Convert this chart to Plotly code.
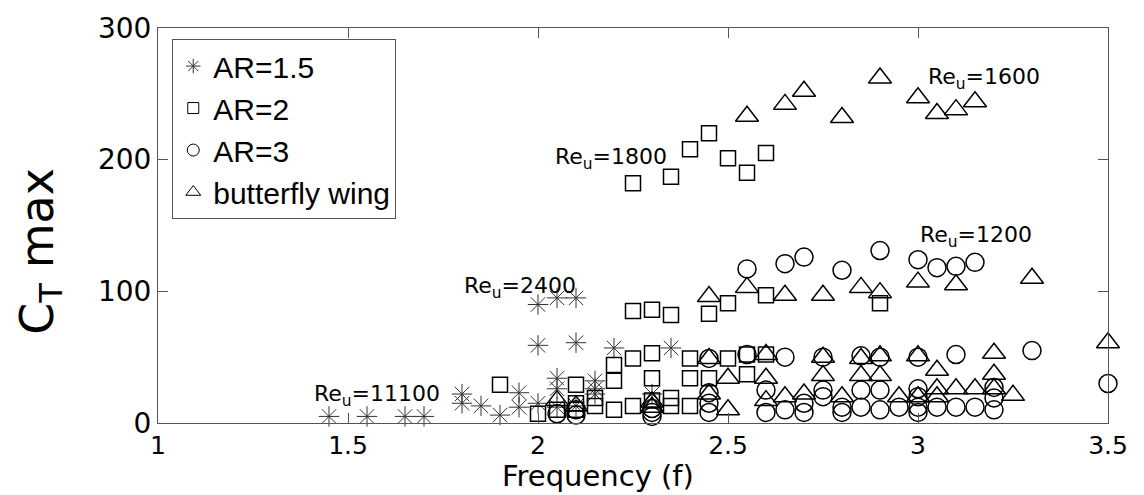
import plotly.graph_objects as go

# Peak thrust coefficient vs. flapping frequency for several wing shapes
ar15_f = [1.45, 1.55, 1.65, 1.70, 1.80, 1.80, 1.85, 1.90, 1.95, 1.95, 2.00, 2.00, 2.00,
          2.05, 2.05, 2.05, 2.05, 2.10, 2.10, 2.10, 2.15, 2.15, 2.15, 2.20, 2.30, 2.35]
ar15_ct = [5, 5, 5, 5, 22, 15, 13, 6, 23, 12, 15, 59, 90,
           34, 26, 12, 95, 13, 61, 95, 32, 26, 22, 57, 22, 57]

ar2_f = [2.25, 2.35, 2.40, 2.45, 2.50, 2.55, 2.60,
         2.25, 2.30, 2.35, 2.45, 2.50, 2.60, 2.90,
         1.90, 2.00, 2.10, 2.10, 2.15, 2.15, 2.20, 2.20, 2.20, 2.25, 2.25, 2.30, 2.30,
         2.30, 2.35, 2.35, 2.40, 2.40, 2.40, 2.45, 2.50, 2.55, 2.55, 2.60, 2.05, 2.10]
ar2_ct = [182, 187, 208, 220, 201, 190, 205,
          85, 86, 82, 83, 91, 97, 91,
          29, 7, 29, 15, 19, 13, 44, 32, 10, 49, 13, 53, 34,
          17, 19, 13, 49, 34, 13, 34, 49, 52, 37, 52, 10, 10]

ar3_f = [2.05, 2.10, 2.10, 2.30, 2.30, 2.30, 2.45, 2.45, 2.45, 2.45, 2.55, 2.55, 2.60,
         2.60, 2.65, 2.65, 2.65, 2.70, 2.70, 2.70, 2.75, 2.75, 2.75, 2.80, 2.80, 2.80,
         2.85, 2.85, 2.85, 2.90, 2.90, 2.90, 2.90, 2.95, 3.00, 3.00, 3.00, 3.00, 3.00,
         3.00, 3.05, 3.05, 3.10, 3.10, 3.10, 3.15, 3.15, 3.20, 3.20, 3.20, 3.30, 3.50]
ar3_ct = [7, 6, 10, 5, 8, 11, 49, 23, 15, 8, 117, 52, 25,
          8, 121, 50, 10, 126, 15, 8, 50, 25, 20, 116, 8, 12,
          51, 25, 12, 131, 50, 25, 10, 12, 124, 50, 26, 20, 12,
          8, 118, 12, 119, 52, 12, 122, 12, 27, 19, 10, 55, 30]

bf_f = [2.05, 2.10, 2.30, 2.30, 2.45, 2.45, 2.45, 2.50, 2.50, 2.55, 2.55, 2.60, 2.60,
        2.60, 2.65, 2.65, 2.65, 2.70, 2.70, 2.75, 2.75, 2.75, 2.80, 2.80, 2.85, 2.85,
        2.85, 2.90, 2.90, 2.90, 2.90, 2.95, 3.00, 3.00, 3.00, 3.00, 3.05, 3.05, 3.05,
        3.05, 3.10, 3.10, 3.10, 3.15, 3.15, 3.20, 3.20, 3.20, 3.25, 3.30, 3.50]
bf_ct = [17, 13, 16, 12, 96, 49, 22, 34, 10, 233, 103, 52, 34,
         17, 242, 97, 20, 252, 22, 97, 50, 36, 232, 20, 103, 49,
         36, 262, 99, 51, 36, 20, 247, 107, 51, 20, 235, 40, 26,
         20, 238, 105, 26, 244, 26, 53, 37, 26, 21, 110, 61]

series_names = ["AR=1.5", "AR=2", "AR=3", "butterfly wing"]

# Reynolds-number labels: (text, frequency, CT)
re_labels = [
    ("Re<sub>u</sub>=1800", 2.04, 201),
    ("Re<sub>u</sub>=1600", 3.02, 262),
    ("Re<sub>u</sub>=1200", 3.00, 142),
    ("Re<sub>u</sub>=2400", 1.80, 103),
    ("Re<sub>u</sub>=11100", 1.405, 21),
]

x_ticks = [1, 1.5, 2, 2.5, 3, 3.5]
x_tick_text = ["1", "1.5", "2", "2.5", "3", "3.5"]
y_ticks = [0, 100, 200, 300]

FONT = "DejaVu Sans, Arial, sans-serif"
LEG_FONT = "Liberation Sans, Arial, sans-serif"
INK = "black"

styles = [
    dict(symbol="asterisk-open", size=17, line=dict(color="#333", width=1), color="#333"),
    dict(symbol="square-open", size=15, line=dict(color=INK, width=1.5), color=INK),
    dict(symbol="circle-open", size=18, line=dict(color=INK, width=1.5), color=INK),
    dict(symbol="triangle-up-open", size=20, line=dict(color=INK, width=1.5), color=INK),
]
legend_sizes = [12, 11, 12, 13]
data = [(ar15_f, ar15_ct), (ar2_f, ar2_ct), (ar3_f, ar3_ct), (bf_f, bf_ct)]

fig = go.Figure()
for (xs, ys), st, name in zip(data, styles, series_names):
    fig.add_trace(go.Scatter(x=xs, y=ys, mode="markers", marker=st, name=name,
                             showlegend=False, cliponaxis=False))
# legend entries use smaller symbols
for st, name, ls in zip(styles, series_names, legend_sizes):
    m = dict(st)
    m["size"] = ls
    m["line"] = dict(color=INK, width=1)
    fig.add_trace(go.Scatter(x=[None], y=[None], mode="markers", marker=m, name=name))

for text, fx, fy in re_labels:
    fig.add_annotation(x=fx, y=fy, text=text, showarrow=False, xanchor="left",
                       yanchor="middle", font=dict(family=FONT, size=22, color=INK))

# axis titles
fig.add_annotation(xref="paper", yref="paper", x=0.463, y=-0.182, text="Frequency (f)",
                   showarrow=False, xanchor="center", yanchor="bottom",
                   font=dict(family=FONT, size=29, color=INK))
fig.add_annotation(xref="paper", yref="paper", x=-0.124, y=0.434, text="C<sub>T</sub> max",
                   showarrow=False, xanchor="center", yanchor="middle", textangle=-90,
                   font=dict(family=FONT, size=46, color=INK))

axis_common = dict(showline=True, linecolor="#555", linewidth=1, mirror="ticks",
                   ticks="inside", ticklen=10, tickcolor="#555", showgrid=False,
                   zeroline=False)

fig.update_layout(
    width=1144, height=495,
    margin=dict(l=158, r=36, t=24, b=72),
    paper_bgcolor="white", plot_bgcolor="white",
    xaxis=dict(range=[1, 3.5], tickvals=x_ticks, ticktext=x_tick_text,
               tickfont=dict(family=FONT, size=25, color=INK), **axis_common),
    yaxis=dict(range=[0, 300], tickvals=y_ticks,
               tickfont=dict(family=FONT, size=28, color=INK), **axis_common),
    legend=dict(x=0.015, y=0.972, xanchor="left", yanchor="top",
                bgcolor="white", bordercolor="#555", borderwidth=1,
                font=dict(family=LEG_FONT, size=30, color=INK), itemwidth=30,
                tracegroupgap=0),
    font=dict(family=FONT, color=INK),
)

fig.write_html("out.html")
